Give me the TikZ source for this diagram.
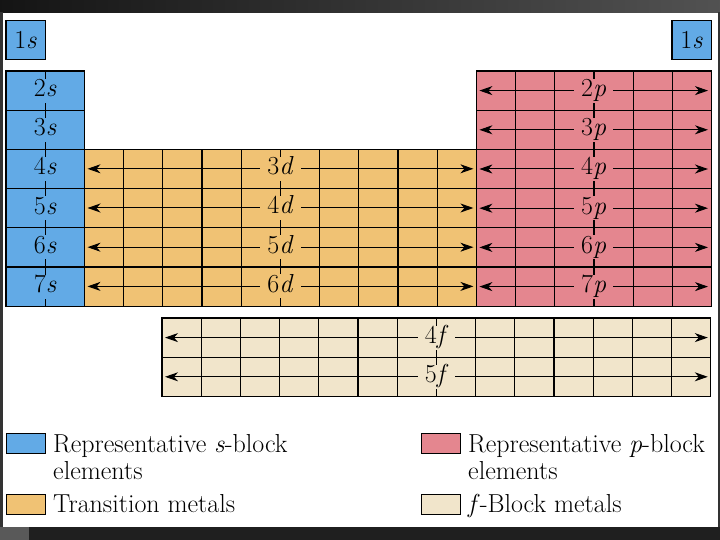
\documentclass[tikz,border=0pt]{standalone}
\usetikzlibrary{positioning}
\usetikzlibrary{arrows.meta}
\usetikzlibrary{calc}

\definecolor{sblue}{RGB}{98,170,230}
\definecolor{dorange}{RGB}{240,194,116}
\definecolor{ppink}{RGB}{228,134,143}
\definecolor{fbeige}{RGB}{241,229,203}

\tikzset{
  cell/.style={draw=black, line width=1.2pt},
  orbital/.style={font=\fontsize{26}{27}\selectfont, inner xsep=7pt, inner ysep=1pt,
                  text height=17pt, text depth=5pt},
  spread/.style={line width=1pt,
                 {Stealth[length=13pt,width=9pt,inset=4pt]}-{Stealth[length=13pt,width=9pt,inset=4pt]}},
  key/.style={draw=black, line width=1.3pt, minimum width=39pt, minimum height=20pt,
              inner sep=0pt, anchor=north west},
  keytext/.style={font=\fontsize{26}{27}\selectfont, align=left, inner sep=0pt}
}

\begin{document}
\begin{tikzpicture}[x=1pt,y=-1pt]
        \useasboundingbox (0,0) rectangle (720,540);

        % Frame of the slide
        \shade[left color=black!92, right color=black!68] (0,0) rectangle (720,12.5);
        \fill[black!88] (0,527) rectangle (720,540);
        \fill[black!65] (0,527) rectangle (29,540);
        \fill[black!80] (0,12.5) rectangle (2.5,527);
        \fill[black!80] (717.5,12.5) rectangle (720,527);

        % Draw the cells
        \foreach \j in {0,...,5}
          \foreach \i in {0,1}
            \filldraw[cell, fill=sblue] (6+\i*39.2, 71+\j*39.2) rectangle ++(39.2,39.2);
        \foreach \j in {0,...,3}
          \foreach \i in {0,...,9}
            \filldraw[cell, fill=dorange] (84.4+\i*39.2, 149.4+\j*39.2) rectangle ++(39.2,39.2);
        \foreach \j in {0,...,5}
          \foreach \i in {0,...,5}
            \filldraw[cell, fill=ppink] (476.4+\i*39.2, 71+\j*39.2) rectangle ++(39.2,39.2);
        \foreach \j in {0,1}
          \foreach \i in {0,...,13}
            \filldraw[cell, fill=fbeige] (162+\i*39.2, 318+\j*39.2) rectangle ++(39.2,39.2);

        % The two 1s cells
        \node[cell, fill=sblue, minimum size=39.2pt, inner sep=0pt, font=\fontsize{26}{27}\selectfont]
          (s1) at (25.6,40) {1\textit{s}};
        \node[cell, fill=sblue, minimum size=39.2pt, inner sep=0pt, font=\fontsize{26}{27}\selectfont]
          (s1r) at (691.6,40) {1\textit{s}};

        % s-block labels
        \foreach \n [count=\k from 0] in {2,...,7}
          \node[orbital, fill=sblue] (s\n) at (45.2, 90.6+\k*39.2) {\n\textit{s}};

        % d-block arrows and labels
        \foreach \n [count=\k from 0] in {3,...,6} {
          \coordinate (d\n w) at (87.5, 168.8+\k*39.2);
          \coordinate (d\n e) at (473.4, 168.8+\k*39.2);
          \draw[spread] (d\n w) -- (d\n e);
          \node[orbital, fill=dorange] (d\n) at ($(d\n w)!0.5!(d\n e)$) {\n\textit{d}};
        }

        % p-block arrows and labels
        \foreach \n [count=\k from 0] in {2,...,7} {
          \coordinate (p\n w) at (479.4, 90.6+\k*39.2);
          \coordinate (p\n e) at (708, 90.6+\k*39.2);
          \draw[spread] (p\n w) -- (p\n e);
          \node[orbital, fill=ppink] (p\n) at (593.6, 90.6+\k*39.2) {\n\textit{p}};
        }

        % f-block arrows and labels
        \foreach \n [count=\k from 0] in {4,5} {
          \coordinate (f\n w) at (165, 337.6+\k*39.2);
          \coordinate (f\n e) at (707.8, 337.6+\k*39.2);
          \draw[spread] (f\n w) -- (f\n e);
          \node[orbital, fill=fbeige] (f\n) at (436.6, 337.6+\k*39.2) {\n\textit{f}};
        }

        % Legend
        \node[key, fill=sblue] (skey) at (6,433) {};
        \node[key, fill=dorange] (dkey) at (6,494) {};
        \node[key, fill=ppink] (pkey) at (421,433) {};
        \node[key, fill=fbeige] (fkey) at (421,494) {};
        \node[keytext, anchor=north west] (stext) at (53,434) {Representative \textit{s}-block\\elements};
        \node[keytext, anchor=base west] (dtext) at (53,512) {Transition metals};
        \node[keytext, anchor=north west] (ptext) at (468,434) {Representative \textit{p}-block\\elements};
        \node[keytext, anchor=base west] (ftext) at (468,512) {\textit{f}-Block metals};
      \end{tikzpicture}
\end{document}
